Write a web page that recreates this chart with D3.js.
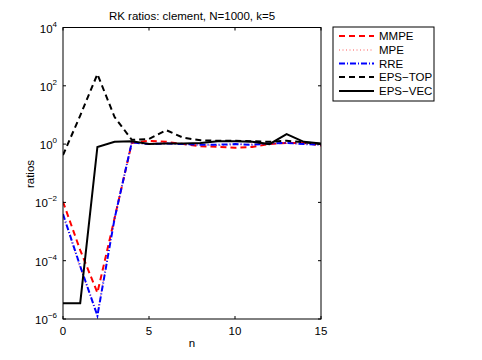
<!DOCTYPE html>
<html><head><meta charset="utf-8">
<script src="https://cdn.jsdelivr.net/npm/d3@7"></script>
<style>body{margin:0;background:#fff}svg text{font-family:"Liberation Sans",Arial,Helvetica,sans-serif}</style>
</head><body><svg id="c" width="482" height="360"></svg>
<script>
const nValues = [0,1,2,3,4,5,6,7,8,9,10,11,12,13,14,15];
const mmpe   = [0.0105,2.3e-4,8e-6,2.9e-3,1.1,1.3,1.2,1.0,0.85,0.8,0.75,0.8,1.0,1.1,1.1,0.9];
const mpe    = [3.5e-3,5.5e-5,1.5e-6,2.9e-3,1.2,1.05,1.1,1.0,0.95,0.9,0.95,1.0,1.0,1.05,1.0,0.95];
const rre    = [4e-3,6.5e-5,1.3e-6,2.8e-3,1.15,1.0,1.05,1.0,0.95,0.95,1.0,0.95,1.05,1.1,1.0,0.95];
const epsTop = [0.42,9.5,250,8.5,1.4,1.5,3.0,1.65,1.35,1.3,1.3,1.25,1.2,1.3,1.15,1.0];
const epsVec = [3.5e-6,3.5e-6,0.8,1.2,1.25,1.0,1.05,1.05,1.1,1.25,1.25,1.2,1.0,2.2,1.2,1.05];
const seriesNames = ["MMPE","MPE","RRE","EPS\u2212TOP","EPS\u2212VEC"];
const xTicks = [0,5,10,15];
const yTickExps = [-6,-4,-2,0,2,4];
const titleText = "RK ratios: clement, N=1000, k=5";

const svg = d3.select("#c");
const L=63, R=321, T=27.5, B=319;
const FS = 11.5;
const x = d3.scaleLinear().domain([0,15]).range([L,R]);
const y = d3.scaleLog().domain([1e-6,1e4]).range([B,T]);

const styles = [
  {data:mmpe, color:"#ff0000", w:2, dash:"6,4"},
  {data:mpe, color:"#ff0000", w:1, dash:"1,2.5", op:0.65},
  {data:rre, color:"#0000ff", w:2, dash:"6,2,1,2"},
  {data:epsTop, color:"#000", w:2, dash:"6,4"},
  {data:epsVec, color:"#000", w:2, dash:null}
];

svg.append("clipPath").attr("id","clip").append("rect").attr("x",L).attr("y",T).attr("width",R-L).attr("height",B-T);
const line = d3.line().x((d,i)=>x(nValues[i])).y(d=>y(d));
const g = svg.append("g").attr("clip-path","url(#clip)");
styles.forEach(s=>{
  g.append("path").datum(s.data).attr("d",line).attr("fill","none")
   .attr("stroke",s.color).attr("stroke-width",s.w)
   .attr("stroke-dasharray",s.dash).attr("stroke-opacity",s.op||1);
});

svg.append("rect").attr("x",L).attr("y",T).attr("width",R-L).attr("height",B-T)
  .attr("fill","none").attr("stroke","#000").attr("stroke-width",1);

xTicks.forEach(t=>{
  const xx = x(t);
  svg.append("line").attr("x1",xx).attr("x2",xx).attr("y1",B).attr("y2",B-3).attr("stroke","#000");
  svg.append("line").attr("x1",xx).attr("x2",xx).attr("y1",T).attr("y2",T+3).attr("stroke","#000");
  svg.append("text").attr("x",xx).attr("y",335).attr("text-anchor","middle").attr("font-size",FS).text(t);
});
yTickExps.forEach(e=>{
  const yy = y(Math.pow(10,e));
  svg.append("line").attr("x1",L).attr("x2",L+3).attr("y1",yy).attr("y2",yy).attr("stroke","#000");
  svg.append("line").attr("x1",R).attr("x2",R-3).attr("y1",yy).attr("y2",yy).attr("stroke","#000");
  const t = svg.append("text").attr("x",57).attr("y",yy+5).attr("text-anchor","end").attr("font-size",FS);
  t.append("tspan").text("10");
  t.append("tspan").attr("dy",-6).attr("font-size",8).text(e<0?"\u2212"+(-e):e);
});

svg.append("text").attr("x",(L+R)/2).attr("y",20).attr("text-anchor","middle").attr("font-size",FS).text(titleText);
svg.append("text").attr("x",(L+R)/2).attr("y",347).attr("text-anchor","middle").attr("font-size",FS).text("n");
svg.append("text").attr("transform","translate(34,174) rotate(-90)").attr("text-anchor","middle").attr("font-size",FS).text("ratios");

const lg = svg.append("g");
lg.append("rect").attr("x",333).attr("y",27).attr("width",101).attr("height",74)
  .attr("fill","#fff").attr("stroke","#000").attr("stroke-width",1);
const rowY = [36,50,63.5,77,91];
seriesNames.forEach((nm,i)=>{
  const s = styles[i];
  lg.append("line").attr("x1",339).attr("x2",374).attr("y1",rowY[i]).attr("y2",rowY[i])
    .attr("stroke",s.color).attr("stroke-width",s.w).attr("stroke-dasharray",s.dash).attr("stroke-opacity",s.op||1);
  lg.append("text").attr("x",379).attr("y",rowY[i]+4).attr("font-size",FS).text(nm);
});
</script></body></html>
